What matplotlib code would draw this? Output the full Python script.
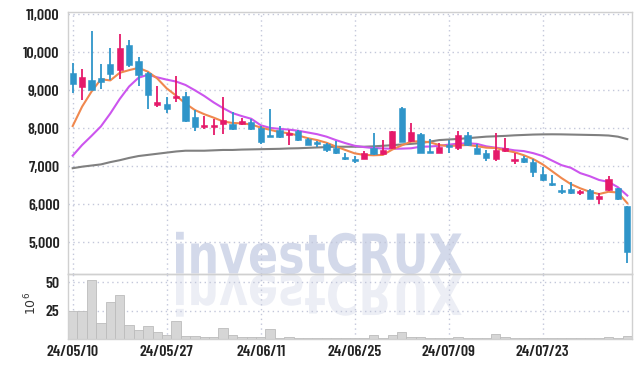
import numpy as np
import matplotlib
matplotlib.use("Agg")
import matplotlib.pyplot as plt
from matplotlib.textpath import TextPath
from matplotlib.patches import PathPatch
from matplotlib.font_manager import FontProperties
import matplotlib.transforms as mtransforms

# daily candles, 24/05/10 .. 24/08/05
opens = [9465, 9096, 9272, 9325, 9693, 9535, 10193, 9772, 9447, 8623,
         8632, 8798, 8851, 8298, 8026, 8027, 8124, 8115, 8124, 8177,
         8009, 7832, 7965, 7814, 7920, 7726, 7628, 7584, 7478, 7257,
         7204, 7204, 7478, 7327, 7469, 8522, 7673, 7858, 7389, 7363,
         7566, 7469, 7823, 7487, 7354, 7184, 7412, 7149, 7228, 7123,
         6798, 6570, 6386, 6404, 6289, 6377, 6149, 6386, 6421, 5956]
highs = [9710, 9553, 10553, 9684, 10105, 10482, 10325, 9886, 9491, 9114,
         8816, 9386, 8965, 8482, 8325, 8248, 8832, 8434, 8274, 8257,
         8053, 8496, 8071, 7947, 7965, 7743, 7673, 7611, 7655, 7363,
         7274, 7407, 7876, 7681, 7938, 8566, 8142, 7876, 7717, 7611,
         7699, 7920, 7903, 7584, 7434, 7886, 7737, 7342, 7281, 7184,
         6974, 6772, 6509, 6596, 6377, 6395, 6289, 6754, 6439, 5956]
lows = [8920, 8746, 9000, 9044, 9272, 9289, 9605, 9114, 8500, 8570,
        8412, 8702, 8175, 7939, 7974, 7832, 7842, 7947, 8080, 7965,
        7593, 7770, 7735, 7558, 7673, 7549, 7504, 7389, 7327, 7168,
        7097, 7186, 7310, 7301, 7451, 7628, 7646, 7345, 7345, 7345,
        7363, 7434, 7522, 7319, 7133, 7149, 7386, 7053, 7096, 6711,
        6623, 6482, 6272, 6272, 6246, 6132, 6009, 6360, 6114, 4465]
closes = [9167, 9351, 9009, 9228, 9430, 10114, 9667, 9404, 8877, 8693,
          8509, 8851, 8202, 8044, 8053, 8080, 8230, 7991, 8204, 7991,
          7628, 7779, 7761, 7876, 7681, 7566, 7584, 7416, 7354, 7204,
          7150, 7363, 7327, 7434, 7938, 7646, 7903, 7363, 7363, 7504,
          7496, 7823, 7558, 7336, 7230, 7430, 7474, 7193, 7114, 6860,
          6640, 6518, 6333, 6289, 6351, 6149, 6219, 6667, 6149, 4754]
volume = [25, 25, 52, 14.5, 32.7, 38.5, 12.4, 8, 11.5, 6.2,
          3.3, 15.7, 2.7, 2.7, 1.6, 1.6, 9.5, 3.6, 1.6, 1.6,
          1.6, 8.6, 0.7, 1.8, 0.7, 0.7, 0.7, 0.7, 0.7, 0.7,
          0.7, 0.7, 3.3, 1.0, 3.3, 6.2, 1.8, 1.6, 0.7, 0.7,
          0.7, 1.6, 0.7, 0.7, 0.7, 4.5, 1.8, 1.0, 0.6, 0.6,
          0.6, 0.5, 0.5, 0.5, 0.5, 0.5, 0.5, 1.6, 0.6, 2.7]

ma5 = [8060, 8570, 8965, 9290, 9260, 9460, 9530, 9590, 9490, 9310,
       9050, 8860, 8650, 8480, 8370, 8280, 8180, 8140, 8130, 8100,
       8020, 7960, 7900, 7870, 7810, 7740, 7690, 7620, 7520, 7430,
       7340, 7300, 7290, 7300, 7440, 7550, 7650, 7660, 7630, 7560,
       7530, 7550, 7560, 7530, 7490, 7480, 7420, 7370, 7290, 7190,
       7050, 6870, 6690, 6530, 6420, 6330, 6270, 6330, 6310, 6030]
ma20 = [7280, 7560, 7800, 8050, 8390, 8770, 9100, 9330, 9410, 9340,
        9280, 9230, 9140, 9000, 8850, 8680, 8530, 8400, 8320, 8250,
        8080, 8010, 7985, 7965, 7935, 7890, 7845, 7780, 7690, 7610,
        7540, 7505, 7480, 7470, 7460, 7465, 7474, 7516, 7520, 7540,
        7570, 7595, 7605, 7590, 7525, 7490, 7460, 7420, 7400, 7345,
        7270, 7150, 7030, 6960, 6820, 6740, 6640, 6590, 6450, 6230]
ma60 = [6950, 6990, 7020, 7050, 7110, 7160, 7220, 7270, 7300, 7330,
        7360, 7390, 7410, 7410, 7410, 7420, 7430, 7430, 7440, 7445,
        7450, 7455, 7460, 7470, 7475, 7485, 7495, 7505, 7515, 7515,
        7515, 7515, 7525, 7540, 7555, 7575, 7590, 7610, 7650, 7690,
        7705, 7720, 7740, 7760, 7780, 7790, 7800, 7815, 7825, 7835,
        7840, 7842, 7840, 7835, 7830, 7825, 7820, 7810, 7780, 7715]

tick_idx = [0, 10, 20, 30, 40, 50]
tick_labels = ['24/05/10', '24/05/27', '24/06/11', '24/06/25', '24/07/09', '24/07/23']
price_ticks = [5000, 6000, 7000, 8000, 9000, 10000, 11000]
vol_ticks = [25, 50]

UP = '#e5196a'
DOWN = '#2f95c9'
GRID = '#c3c7da'
SPINE = '#d0d0d0'
TXT = '#222222'

W, H, DPI = 642, 368, 100
fig = plt.figure(figsize=(W / DPI, H / DPI), dpi=DPI, facecolor='white')

# axes in pixel geometry
L, R = 68, 632
ax = fig.add_axes([L / W, 1 - 274 / H, (R - L) / W, (274 - 12) / H])
axv = fig.add_axes([L / W, 1 - 339 / H, (R - L) / W, (339 - 274) / H], sharex=ax)
for a in (ax, axv):
    a.set_facecolor('none')
    for s in a.spines.values():
        s.set_color(SPINE)
        s.set_linewidth(1)
    a.tick_params(length=0, colors=TXT)
    a.set_axisbelow(True)

fnt = FontProperties(family=['Barlow Condensed', 'DejaVu Sans'], weight=600, size=11.5)

# watermark with reflection, behind everything
wfp = FontProperties(family='DejaVu Sans', weight='bold')
tp = TextPath((0, 0), 'investCRUX', size=100, prop=wfp)
bb = tp.get_extents()
sx = 286 / bb.width
sy = 40 / 72.9
base = H - 273.5
t_up = mtransforms.Affine2D().translate(-bb.x0, 0).scale(sx / DPI, sy / DPI).translate(176 / DPI, base / DPI)
t_dn = mtransforms.Affine2D().translate(-bb.x0, 0).scale(sx / DPI, -sy / DPI).translate(176 / DPI, (base - 1.5) / DPI)
fig.add_artist(PathPatch(tp, transform=t_up + fig.dpi_scale_trans, fc='#d3d9ea', ec='none', zorder=-5))
fig.add_artist(PathPatch(tp, transform=t_dn + fig.dpi_scale_trans, fc='#eceef5', ec='none', zorder=-5))

x = np.arange(len(opens))
o = np.array(opens)
c = np.array(closes)
cols = [UP if cc >= oo else DOWN for oo, cc in zip(o, c)]

# moving averages
ax.plot(x, ma60, color='#808080', lw=1.5, zorder=2)
ax.plot(x, ma20, color='#cc55ee', lw=1.5, zorder=2)
ax.plot(x, ma5, color='#f0884e', lw=1.5, zorder=2)

# candles
ax.vlines(x, lows, highs, colors=cols, lw=1.3, zorder=3)
bh = np.maximum(np.abs(c - o), 50)
ax.bar(x, bh, bottom=np.minimum(o, c), width=0.68, color=cols, edgecolor=cols, lw=0.4, zorder=4)

ax.set_xlim(-0.5, 59.5)
ax.set_ylim(4166, 11060)
ax.set_yticks(price_ticks)
ax.set_yticklabels([f'{v:,}' for v in price_ticks], fontproperties=fnt)
ax.grid(True, color=GRID, ls=(0, (1, 2.5)), lw=1)
ax.tick_params(labelbottom=False, pad=6)

# volume
axv.bar(x, volume, width=1.0, color='#d6d6d6', edgecolor='#bcbcbc', lw=0.6, zorder=2)
axv.set_ylim(0, 57.3)
axv.set_yticks(vol_ticks)
axv.set_yticklabels([str(v) for v in vol_ticks], fontproperties=fnt)
axv.set_xticks(tick_idx)
axv.set_xticklabels(tick_labels, fontproperties=fnt)
axv.grid(True, color=GRID, ls=(0, (1, 2.5)), lw=1)
axv.tick_params(axis='y', pad=6)
axv.tick_params(axis='x', pad=4)
fig.text(31 / W, 1 - 303 / H, r'$10^6$', rotation=90, ha='center', va='center',
         fontsize=9, color='#333333')

fig.savefig('out.png', dpi=DPI, facecolor='white')
